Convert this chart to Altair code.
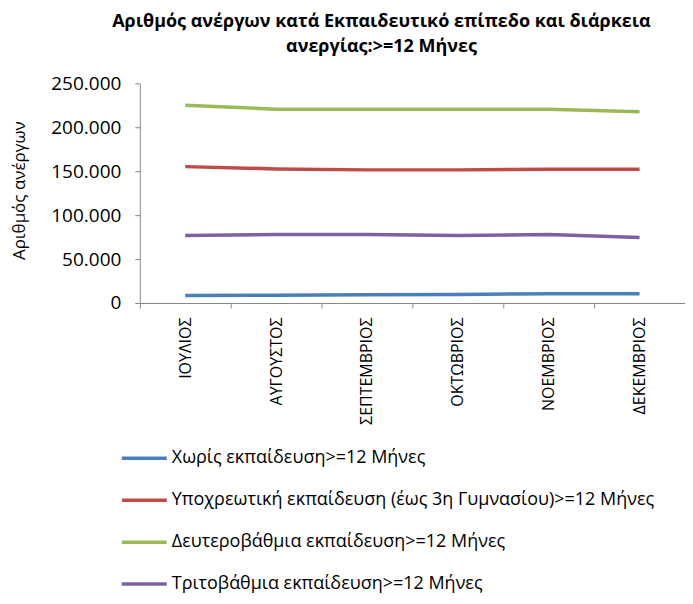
import altair as alt
import pandas as pd

months = ["ΙΟΥΛΙΟΣ", "ΑΥΓΟΥΣΤΟΣ", "ΣΕΠΤΕΜΒΡΙΟΣ", "ΟΚΤΩΒΡΙΟΣ", "ΝΟΕΜΒΡΙΟΣ", "ΔΕΚΕΜΒΡΙΟΣ"]
series_names = [
    "Χωρίς εκπαίδευση>=12 Μήνες",
    "Υποχρεωτική εκπαίδευση (έως 3η Γυμνασίου)>=12 Μήνες",
    "Δευτεροβάθμια εκπαίδευση>=12 Μήνες",
    "Τριτοβάθμια εκπαίδευση>=12 Μήνες",
]
no_education = [8600, 8800, 9500, 9800, 10500, 10600]
compulsory = [155200, 152600, 151500, 151500, 152300, 152300]
secondary = [225000, 220600, 220500, 220500, 220500, 217600]
tertiary = [76800, 78000, 78000, 76800, 78000, 74600]
colors = ["#4A7EBB", "#BE4B48", "#98B954", "#7D60A0"]

rows = []
for name, vals in zip(series_names, [no_education, compulsory, secondary, tertiary]):
    for m, v in zip(months, vals):
        rows.append({"month": m, "series": name, "value": v})
df = pd.DataFrame(rows)

font = "Open Sans"

chart = alt.Chart(df).mark_line(strokeWidth=3.5).encode(
    x=alt.X("month:N", sort=months,
            scale=alt.Scale(type="band", paddingInner=0, paddingOuter=0),
            axis=alt.Axis(title=None, labelAngle=270, labelAlign="right", labelBaseline="middle",
                          labelFont=font, labelFontSize=16, labelColor="#000000",
                          labelPadding=9, tickBand="extent", tickSize=5,
                          domainColor="#868686", tickColor="#868686", grid=False)),
    y=alt.Y("value:Q", scale=alt.Scale(domain=[0, 250000]),
            axis=alt.Axis(title="Αριθμός ανέργων", values=[0, 50000, 100000, 150000, 200000, 250000],
                          labelExpr="replace(format(datum.value, ',d'), ',', '.')",
                          labelFont=font, labelFontSize=19, labelColor="#000000", labelPadding=14,
                          tickSize=5, domainColor="#868686", tickColor="#868686", grid=False,
                          titleFont=font, titleFontSize=17, titleFontWeight="normal", titleColor="#000000",
                          titleX=-120, titleY=107, titleAngle=270, titleAlign="center",
                          titleBaseline="middle")),
    color=alt.Color("series:N", sort=series_names,
                    scale=alt.Scale(domain=series_names, range=colors),
                    legend=alt.Legend(title=None, orient="none", legendX=-20, legendY=351,
                                      direction="vertical", symbolType="stroke", symbolSize=2025,
                                      symbolStrokeWidth=3.5, rowPadding=8, labelOffset=3,
                                      labelFont=font, labelFontSize=18, labelColor="#000000",
                                      labelLimit=700, padding=0)),
).properties(
    width=546, height=220,
    title=alt.TitleParams(
        text=["Αριθμός ανέργων κατά Εκπαιδευτικό επίπεδο και διάρκεια", "ανεργίας:>=12 Μήνες"],
        font=font, fontSize=18, fontWeight="bold", color="#000000", anchor="middle",
        frame="group", dx=-31, offset=18, lineHeight=25),
    autosize=alt.AutoSizeParams(type="none"),
    padding={"left": 132, "top": 75, "right": 0, "bottom": 293},
).configure_view(stroke=None)

chart.save("out.html", embed_options={"renderer": "svg", "actions": False})
